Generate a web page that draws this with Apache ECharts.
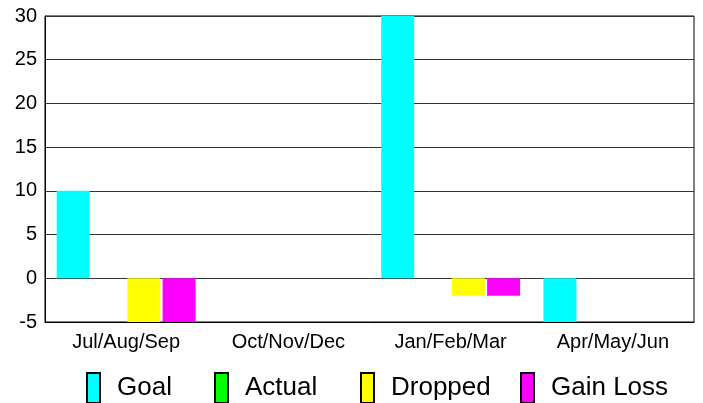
<!DOCTYPE html>
<html>
<head>
<meta charset="utf-8">
<script src="https://cdn.jsdelivr.net/npm/echarts@6/dist/echarts.min.js"></script>
<style>html,body{margin:0;padding:0;background:#fff}#c{width:703px;height:403px}</style>
</head>
<body>
<div id="c"></div>
<script>
var categories = ['Jul/Aug/Sep', 'Oct/Nov/Dec', 'Jan/Feb/Mar', 'Apr/May/Jun'];
var goal = [10, 0, 30, -5];
var actual = [0, 0, 0, 0];
var dropped = [-5, 0, -2, 0];
var gainLoss = [-5, 0, -2, 0];
var seriesNames = ['Goal', 'Actual', 'Dropped', 'Gain Loss'];
var seriesColors = ['#00FFFF', '#00FF00', '#FFFF00', '#FF00FF'];
var seriesData = [goal, actual, dropped, gainLoss];
var legendLefts = [86, 214, 360, 520];

var font = 'Liberation Sans, Arial, sans-serif';
var chart = echarts.init(document.getElementById('c'), null, {renderer: 'canvas'});

var legends = seriesNames.map(function (n, i) {
  return {
    data: [n],
    left: legendLefts[i],
    top: 372,
    icon: 'rect',
    itemWidth: 13,
    itemHeight: 30,
    itemGap: 0,
    padding: 0,
    itemStyle: {borderColor: '#000', borderWidth: 2},
    textStyle: {fontFamily: font, fontSize: 26, color: '#000', padding: [0, 0, 0, 12]}
  };
});

chart.setOption({
  animation: false,
  backgroundColor: '#fff',
  grid: {left: 45, right: 9, top: 16, bottom: 81, show: true, borderColor: '#000', borderWidth: 1, containLabel: false},
  legend: legends,
  xAxis: {
    type: 'category',
    data: categories,
    position: 'bottom',
    axisLine: {show: true, onZero: false, lineStyle: {color: '#000', width: 1}},
    axisTick: {show: false},
    axisLabel: {fontFamily: font, fontSize: 20, color: '#000', margin: 10, interval: 0}
  },
  yAxis: {
    type: 'value',
    min: -5,
    max: 30,
    interval: 5,
    axisLine: {show: true, lineStyle: {color: '#000', width: 1}},
    axisTick: {show: false},
    splitLine: {show: true, lineStyle: {color: '#333', width: 1}},
    axisLabel: {fontFamily: font, fontSize: 20, color: '#000', margin: 8}
  },
  series: seriesNames.map(function (n, i) {
    return {
      name: n,
      type: 'bar',
      data: seriesData[i],
      barWidth: 33,
      barGap: '7%',
      itemStyle: {color: seriesColors[i], borderWidth: 0}
    };
  })
});
</script>
</body>
</html>
